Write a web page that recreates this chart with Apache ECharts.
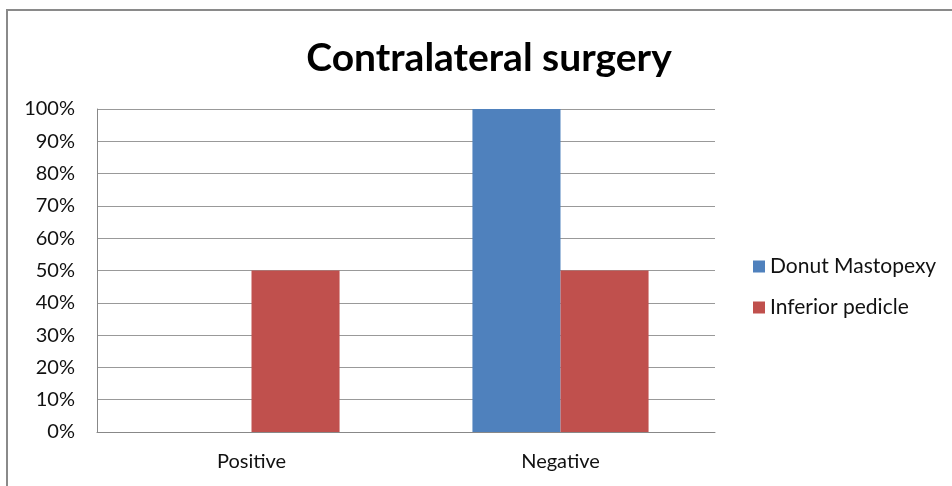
<!DOCTYPE html>
<html>
<head>
<meta charset="utf-8">
<script src="https://cdn.jsdelivr.net/npm/echarts@6/dist/echarts.min.js"></script>
<style>
  html, body { margin: 0; padding: 0; background: #fff; }
  #chart { width: 952px; height: 486px; }
</style>
</head>
<body>
<div id="chart"></div>
<script>
// Share of patients with contralateral surgery, by technique
const categories = ['Positive', 'Negative'];
const donutMastopexy = [0, 100];
const inferiorPedicle = [50, 50];
const yTicks = { min: 0, max: 100, interval: 10 };

const chart = echarts.init(document.getElementById('chart'));
const font = 'Lato, "Open Sans", sans-serif';

chart.setOption({
  backgroundColor: '#ffffff',
  animation: false,
  graphic: [{
    type: 'rect',
    shape: { x: 7, y: 10, width: 960, height: 500 },
    style: { fill: 'none', stroke: '#8a8a8a', lineWidth: 2 },
    silent: true
  }],
  title: {
    text: 'Contralateral surgery',
    left: 484,
    textAlign: 'center',
    top: 34,
    textStyle: { fontFamily: font, fontWeight: 'bold', fontSize: 39, color: '#000' }
  },
  legend: {
    orient: 'vertical',
    left: 748,
    top: 251,
    itemWidth: 12,
    itemHeight: 12,
    itemGap: 20,
    icon: 'rect',
    textStyle: { fontFamily: font, fontSize: 21, color: '#111' },
    data: ['Donut Mastopexy', 'Inferior pedicle']
  },
  grid: { left: 97, right: 237, top: 109, bottom: 54, containLabel: false },
  xAxis: {
    type: 'category',
    data: categories,
    axisLine: { lineStyle: { color: '#888', width: 1 } },
    axisTick: { show: false },
    axisLabel: { fontFamily: font, fontSize: 20, color: '#111', margin: 20 }
  },
  yAxis: {
    type: 'value',
    min: yTicks.min,
    max: yTicks.max,
    interval: yTicks.interval,
    axisLine: { show: true, lineStyle: { color: '#888', width: 1 } },
    axisTick: { show: false },
    axisLabel: { fontFamily: font, fontSize: 20, color: '#111', margin: 22, formatter: '{value}%' },
    splitLine: { lineStyle: { color: '#999', width: 1 } }
  },
  series: [
    {
      name: 'Donut Mastopexy',
      type: 'bar',
      data: donutMastopexy,
      itemStyle: { color: '#4F81BD' },
      barGap: '0%',
      barCategoryGap: '43%'
    },
    {
      name: 'Inferior pedicle',
      type: 'bar',
      data: inferiorPedicle,
      itemStyle: { color: '#C0504D' },
      barGap: '0%',
      barCategoryGap: '43%'
    }
  ]
});
</script>
</body>
</html>
